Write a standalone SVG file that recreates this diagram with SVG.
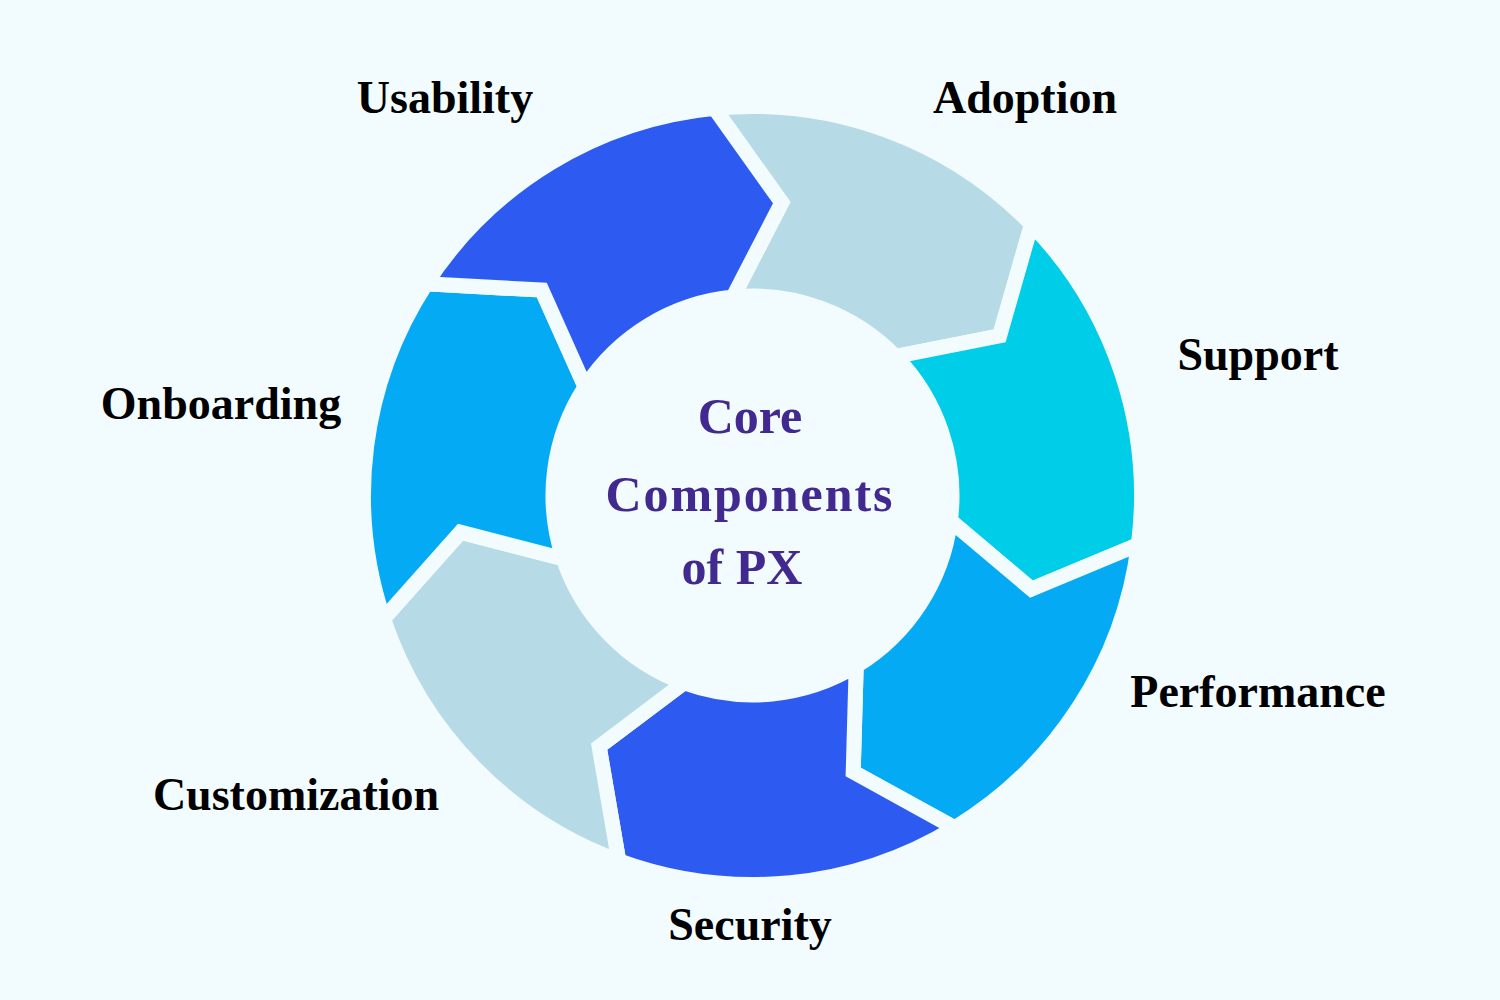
<svg xmlns="http://www.w3.org/2000/svg" width="1500" height="1000" viewBox="0 0 1500 1000">
  <style>
    .seg { stroke: #F2FBFD; stroke-width: 15; stroke-linejoin: miter; stroke-miterlimit: 20; }
    .pale { fill: #B7DBE6; }
    .cyan { fill: #00CDE7; }
    .sky { fill: #05AAF5; }
    .royal { fill: #2D5AF0; }
    .label { font-family: "Liberation Serif", "DejaVu Serif", serif; font-weight: bold; font-size: 46px; fill: #000000; text-anchor: middle; }
    .center { font-family: "Liberation Serif", "DejaVu Serif", serif; font-weight: bold; font-size: 50px; fill: #42298F; text-anchor: middle; }
  </style>
  <rect width="1500" height="1000" fill="#F2FBFD"/>

  <g id="adoption">
    <path class="seg pale" d="M714.54,108.36 A389,389 0 0 1 1031.51,224.44 L999.64,335.79 L895.59,356.49 A199.5,199.5 0 0 0 733.03,296.95 L781.72,202.70 Z"/>
    <text class="label" x="1025" y="113">Adoption</text>
  </g>
  <g id="support">
    <path class="seg cyan" d="M1031.51,224.44 A389,389 0 0 1 1138.38,544.64 L1031.45,589.15 L950.40,520.70 A199.5,199.5 0 0 0 895.59,356.49 L999.64,335.79 Z"/>
    <text class="label" x="1258" y="370">Support</text>
  </g>
  <g id="performance">
    <path class="seg sky" d="M1138.38,544.64 A389,389 0 0 1 954.67,827.83 L853.21,771.98 L856.19,665.94 A199.5,199.5 0 0 0 950.40,520.70 L1031.45,589.15 Z"/>
    <text class="label" x="1258" y="707">Performance</text>
  </g>
  <g id="security">
    <path class="seg royal" d="M954.67,827.83 A389,389 0 0 1 618.73,860.77 L599.13,746.62 L683.89,682.83 A199.5,199.5 0 0 0 856.19,665.94 L853.21,771.98 Z"/>
    <text class="label" x="750" y="940">Security</text>
  </g>
  <g id="customization">
    <path class="seg pale" d="M618.73,860.77 A389,389 0 0 1 383.51,618.66 L460.54,532.16 L563.26,558.66 A199.5,199.5 0 0 0 683.89,682.83 L599.13,746.62 Z"/>
    <text class="label" x="296" y="810">Customization</text>
  </g>
  <g id="onboarding">
    <path class="seg sky" d="M383.51,618.66 A389,389 0 0 1 426.15,283.80 L541.80,290.10 L585.13,386.93 A199.5,199.5 0 0 0 563.26,558.66 L460.54,532.16 Z"/>
    <text class="label" x="221" y="419">Onboarding</text>
  </g>
  <g id="usability">
    <path class="seg royal" d="M426.15,283.80 A389,389 0 0 1 714.54,108.36 L781.72,202.70 L733.03,296.95 A199.5,199.5 0 0 0 585.13,386.93 L541.80,290.10 Z"/>
    <text class="label" x="445" y="113">Usability</text>
  </g>

  <g id="core-components">
    <text class="center" x="750" y="433">Core</text>
    <text class="center" x="749" y="511" textLength="287" lengthAdjust="spacing">Components</text>
    <text class="center" x="742" y="584">of PX</text>
  </g>
</svg>
